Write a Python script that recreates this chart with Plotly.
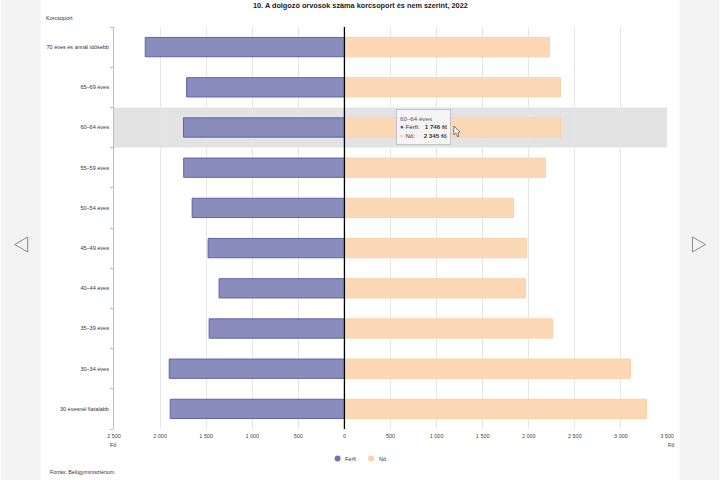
import plotly.graph_objects as go

categories = ["30 évesnél fiatalabb", "30–34 éves", "35–39 éves", "40–44 éves", "45–49 éves",
              "50–54 éves", "55–59 éves", "60–64 éves", "65–69 éves", "70 éves és annál idősebb"]
male = [1890, 1901, 1468, 1360, 1479, 1652, 1744, 1746, 1712, 2161]
female = [3277, 3104, 2259, 1966, 1977, 1836, 2183, 2345, 2345, 2226]
tick_values = [-2500, -2000, -1500, -1000, -500, 0, 500, 1000, 1500, 2000, 2500, 3000, 3500]
tick_labels = ["2 500", "2 000", "1 500", "1 000", "500", "0", "500", "1 000", "1 500", "2 000", "2 500", "3 000", "3 500"]
series_names = ["Férfi", "Nő"]
title = "10. A dolgozó orvosok száma korcsoport és nem szerint, 2022"
highlight = 7
fmt = lambda v: f"{v:,}".replace(",", " ")

FONT = "Liberation Sans"
W, H = 720, 480
L, R, T, B = 113.5, 667.5, 27, 429
px = lambda x: (x - L) / (R - L)
py = lambda y: (B - y) / (B - T)
M_FILL, M_LINE = "#8a8dbb", "#5d63ad"
F_FILL, F_LINE = "#fdd8b7", "#fcd0a8"

fig = go.Figure()
fig.add_bar(y=categories, x=[-v for v in male], orientation="h", name=series_names[0],
            marker=dict(color=M_FILL, line=dict(color=M_LINE, width=1)), showlegend=False)
fig.add_bar(y=categories, x=female, orientation="h", name=series_names[1],
            marker=dict(color=F_FILL, line=dict(color=F_LINE, width=1)), showlegend=False)

def dot(cx, cy, r, color):
    return dict(type="circle", xref="paper", yref="paper", x0=px(cx - r), x1=px(cx + r), y0=py(cy + r), y1=py(cy - r),
                fillcolor=color, line_width=0)

shapes = [
    # side panels of the page
    dict(type="rect", xref="paper", yref="paper", x0=px(0), x1=px(40), y0=py(480), y1=py(0),
         fillcolor="#f3f3f3", line_width=0, layer="below"),
    dict(type="rect", xref="paper", yref="paper", x0=px(680), x1=px(720), y0=py(480), y1=py(0),
         fillcolor="#f3f3f3", line_width=0, layer="below"),
    # hovered band
    dict(type="rect", xref="x domain", yref="y", x0=0, x1=1, y0=highlight - 0.5, y1=highlight + 0.5,
         fillcolor="#e3e3e3", line_width=0, layer="below"),
    # zero axis on top of the bars
    dict(type="line", xref="x", yref="paper", x0=0, x1=0, y0=0, y1=1,
         line=dict(color="#000000", width=1.3)),
    # navigation arrows
    dict(type="path", xref="paper", yref="paper",
         path=f"M {px(27)} {py(237)} L {px(14)} {py(244.5)} L {px(27)} {py(252)} Z",
         fillcolor="rgba(0,0,0,0)", line=dict(color="#8a8a8a", width=1)),
    dict(type="path", xref="paper", yref="paper",
         path=f"M {px(693)} {py(237)} L {px(706)} {py(244.5)} L {px(693)} {py(252)} Z",
         fillcolor="rgba(0,0,0,0)", line=dict(color="#8a8a8a", width=1)),
    # legend dots
    dot(337.5, 458.5, 3, "#6f72b5"),
    dot(371, 458.5, 3, "#fdd0a8"),
    # mouse cursor
    dict(type="path", xref="paper", yref="paper",
         path=f"M {px(454)} {py(126)} L {px(454)} {py(135)} L {px(456)} {py(133)} L {px(458)} {py(137)} "
              f"L {px(459)} {py(136)} L {px(458)} {py(132.5)} L {px(460)} {py(132)} Z",
         fillcolor="#ffffff", line=dict(color="#555555", width=0.8)),
]

def note(text, x, y, size=5.5, anchor="left", color="#333333", **kw):
    return dict(text=text, xref="paper", yref="paper", x=px(x), y=py(y), xanchor=anchor, yanchor="middle",
                showarrow=False, font=dict(family=FONT, size=size, color=color), **kw)

tooltip = (f"<span style='color:#555555'>{categories[highlight]}</span><br>"
           f"<span style='color:#4a50a8'>●</span> {series_names[0]}:   <b>{fmt(male[highlight])} fő</b><br>"
           f"<span style='color:#fdd0a8'>●</span> {series_names[1]}:     <b>{fmt(female[highlight])} fő</b>")
annotations = [
    note("<b>" + title + "</b>", 360, 6, size=7.3, anchor="center", color="#222222"),
    note("Korcsoport", 43, 18),
    note("Fő", 107, 445),
    note("Fő", 666, 445),
    note("Forrás: Belügyminisztérium.", 47.5, 472.5, size=5.3),
    note(series_names[0], 343, 459),
    note(series_names[1], 377, 459),
    dict(text=tooltip, xref="paper", yref="paper", x=px(396), y=py(109), xanchor="left", yanchor="top",
         showarrow=False, align="left", valign="middle", width=47, height=28,
         bgcolor="rgba(246,246,246,0.95)", bordercolor="#c4c4c4", borderwidth=1,
         borderpad=3, font=dict(family=FONT, size=6.2, color="#333333")),
]

fig.update_layout(
    width=W, height=H, autosize=False,
    paper_bgcolor="#ffffff", plot_bgcolor="rgba(0,0,0,0)",
    margin=dict(l=L, r=W - R, t=T, b=H - B, pad=0, autoexpand=False),
    barmode="relative", bargap=0.52,
    font=dict(family=FONT, size=5.5, color="#333333"),
    shapes=shapes, annotations=annotations, showlegend=False,
    xaxis=dict(range=[-2500, 3500], tickvals=tick_values, ticktext=tick_labels, showgrid=True,
               gridcolor="#e6e6e6", gridwidth=1, zeroline=False, ticks="", showline=False,
               ticklabelstandoff=2,
               tickfont=dict(size=5.5, family=FONT, color="#444444")),
    yaxis=dict(type="category", categoryorder="array", categoryarray=categories, showgrid=False,
               showline=True, linecolor="#bdbdbd", linewidth=1, ticks="outside", ticklen=3, tickcolor="#bdbdbd",
               tickson="boundaries", ticklabelstandoff=3, zeroline=False,
               tickfont=dict(size=5.5, family=FONT, color="#333333")),
)

fig.write_html("out.html", config=dict(displayModeBar=False),
               post_script="document.body.style.margin='0';")
